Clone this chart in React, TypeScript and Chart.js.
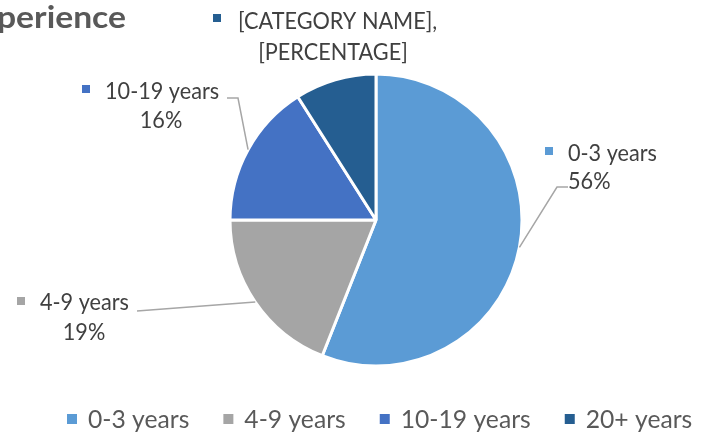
import React, { useEffect, useRef } from "react";
import { Chart, registerables } from "chart.js";

Chart.register(...registerables);

// ---- data ----
const categories = ["0-3 years", "4-9 years", "10-19 years", "20+ years"];
const values = [56, 19, 16, 9];
const colors = ["#5B9BD5", "#A5A5A5", "#4472C4", "#255E91"];
// data label texts (the last slice keeps Excel's placeholder label)
const labelNames = ["0-3 years", "4-9 years", "10-19 years", "[CATEGORY NAME],"];
const labelValues = ["56%", "19%", "16%", "[PERCENTAGE]"];
const titleText = "perience";

// ---- layout (positions of the data labels, not data) ----
type Align = "left" | "center";
const LABEL_LAYOUT: {
  sq: [number, number];
  l1: [number, number, Align];
  l2: [number, number, Align];
  line: [number, number][] | null;
}[] = [
  { sq: [549, 151], l1: [568, 153, "left"], l2: [568, 181, "left"], line: [[557, 187], [568, 187]] },
  { sq: [21, 301], l1: [40, 302, "left"], l2: [84, 332, "center"], line: [[137, 311]] },
  { sq: [86, 89], l1: [105, 91, "left"], l2: [161, 120, "center"], line: [[238, 98], [227, 98]] },
  { sq: [217, 18], l1: [238, 21, "left"], l2: [333, 52, "center"], line: null },
];

const FONT = "Lato, 'Open Sans', sans-serif";

// draws text with its vertical centre (cap height) at y, horizontally scaled by sx
function drawText(
  ctx: CanvasRenderingContext2D,
  text: string,
  x: number,
  y: number,
  align: Align,
  size: number,
  weight: string,
  sx: number,
  capRatio = 0.72
) {
  ctx.font = `${weight} ${size}px ${FONT}`;
  const w = ctx.measureText(text).width * sx;
  const left = align === "center" ? x - w / 2 : x;
  ctx.save();
  ctx.translate(left, y + (size * capRatio) / 2);
  ctx.scale(sx, 1);
  ctx.textAlign = "left";
  ctx.textBaseline = "alphabetic";
  ctx.fillText(text, 0, 0);
  ctx.restore();
}

function scaleFor(ctx: CanvasRenderingContext2D, text: string, size: number, weight: string, target: number) {
  ctx.font = `${weight} ${size}px ${FONT}`;
  return target / ctx.measureText(text).width;
}

const overlayPlugin = {
  id: "overlay",
  afterDraw(chart: any) {
    const ctx: CanvasRenderingContext2D = chart.ctx;
    const meta = chart.getDatasetMeta(0);
    ctx.save();

    // title (clipped in the reference, only the tail is visible)
    const tSize = 30;
    const tsx = scaleFor(ctx, titleText, tSize, "bold", 129);
    ctx.fillStyle = "#595959";
    drawText(ctx, titleText, -3, 20, "left", tSize, "bold", tsx, 0.51);

    // data labels
    const lSize = 23.5;
    const lsx = scaleFor(ctx, "0-3 years", lSize, "normal", 89);
    meta.data.forEach((arc: any, i: number) => {
      const lay = LABEL_LAYOUT[i];
      const p = arc.getProps(["x", "y", "startAngle", "endAngle", "outerRadius"], true);
      const mid = (p.startAngle + p.endAngle) / 2;
      if (lay.line) {
        ctx.beginPath();
        ctx.moveTo(p.x + Math.cos(mid) * p.outerRadius, p.y + Math.sin(mid) * p.outerRadius);
        lay.line.forEach(([x, y]) => ctx.lineTo(x, y));
        ctx.strokeStyle = "#A6A6A6";
        ctx.lineWidth = 1.5;
        ctx.stroke();
      }
      ctx.fillStyle = colors[i];
      ctx.fillRect(lay.sq[0] - 4, lay.sq[1] - 4, 8, 8);
      ctx.fillStyle = "#404040";
      drawText(ctx, labelNames[i], lay.l1[0], lay.l1[1], lay.l1[2], lSize, "normal", lsx);
      drawText(ctx, labelValues[i], lay.l2[0], lay.l2[1], lay.l2[2], lSize, "normal", lsx);
    });

    // legend
    const gSize = 25;
    const gsx = scaleFor(ctx, "10-19 years", gSize, "normal", 130);
    let x = 67;
    const y = 419;
    categories.forEach((c, i) => {
      ctx.fillStyle = colors[i];
      ctx.fillRect(x, y - 5, 10, 10);
      ctx.fillStyle = "#595959";
      drawText(ctx, c, x + 21, y, "left", gSize, "normal", gsx);
      ctx.font = `normal ${gSize}px ${FONT}`;
      x += 21 + ctx.measureText(c).width * gsx + 34;
    });
    ctx.restore();
  },
};

export default function App() {
  const ref = useRef<HTMLCanvasElement>(null);
  useEffect(() => {
    document.body.style.margin = "0";
    if (!ref.current) return;
    const chart = new Chart(ref.current, {
      type: "pie",
      data: {
        labels: categories,
        datasets: [
          {
            data: values,
            backgroundColor: colors,
            borderColor: "#FFFFFF",
            borderWidth: 3,
          },
        ],
      },
      options: {
        responsive: false,
        animation: false,
        devicePixelRatio: 1,
        radius: 146,
        layout: { padding: { left: 231, right: 181, top: 75, bottom: 69 } },
        plugins: {
          legend: { display: false },
          tooltip: { enabled: false },
          title: { display: false },
        },
      } as any,
      plugins: [overlayPlugin],
    });
    return () => chart.destroy();
  }, []);
  return (
    <div style={{ width: 702, height: 434, background: "#fff" }}>
      <canvas ref={ref} width={702} height={434} style={{ display: "block" }} />
    </div>
  );
}
